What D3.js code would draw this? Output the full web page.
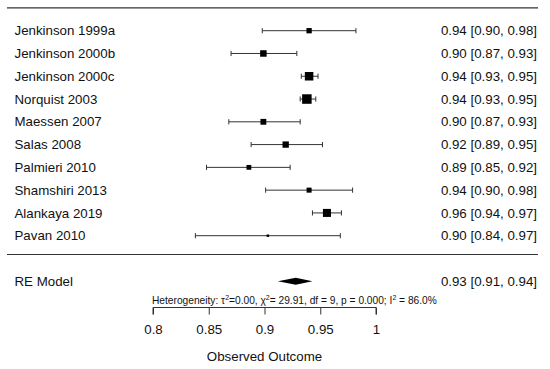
<!DOCTYPE html>
<html lang="en">
<head>
<meta charset="utf-8">
<title>Forest plot</title>
<script src="https://d3js.org/d3.v7.min.js"></script>
<style>
body { margin: 0; background: #fff; }
text { font-family: "Liberation Sans", Arial, sans-serif; fill: #111; }
</style>
</head>
<body>
<script>

// study data
var studies = ["Jenkinson 1999a", "Jenkinson 2000b", "Jenkinson 2000c", "Norquist 2003", "Maessen 2007",
               "Salas 2008", "Palmieri 2010", "Shamshiri 2013", "Alankaya 2019", "Pavan 2010"];
var est   = [0.940, 0.899, 0.940, 0.938, 0.899, 0.919, 0.886, 0.940, 0.956, 0.903];
var lower = [0.898, 0.870, 0.933, 0.932, 0.868, 0.888, 0.848, 0.901, 0.943, 0.838];
var upper = [0.982, 0.929, 0.948, 0.946, 0.932, 0.952, 0.923, 0.979, 0.969, 0.968];
var weights = [6.6, 9.9, 17.0, 21.2, 8.0, 9.4, 5.4, 5.9, 15.1, 1.4];

// pooled RE model
var reLabel = "RE Model";
var reEst = 0.928, reLower = 0.912, reUpper = 0.943;

var ticks = [0.8, 0.85, 0.9, 0.95, 1];
var xTitle = "Observed Outcome";

var W = 550, H = 369;
var fmt = d3.format(".2f");

var svg = d3.select("body").append("svg")
  .attr("width", W)
  .attr("height", H);

var x = d3.scaleLinear().domain([0.8, 1]).range([153, 376]);
// metafor style rows: k at top, summary at -1
var y = d3.scaleLinear().domain([10, 1]).range([30.7, 235.7]);
var size = d3.scaleSqrt().domain([0, d3.max(weights)]).range([0, 9.5]);

var rows = studies.map(function(s, i) {
  return { name: s, est: est[i], lo: lower[i], hi: upper[i], w: weights[i], row: studies.length - i };
});

// horizontal rules
svg.append("line")
  .attr("x1", 7).attr("x2", 538)
  .attr("y1", y(11)).attr("y2", y(11))
  .attr("stroke", "#333").attr("stroke-width", 1.2);
svg.append("line")
  .attr("x1", 7).attr("x2", 538)
  .attr("y1", 254.5).attr("y2", 254.5)
  .attr("stroke", "#333").attr("stroke-width", 1.2);

var g = svg.selectAll("g.study")
  .data(rows)
  .enter().append("g")
  .attr("class", "study");

// CI lines
g.append("line")
  .attr("x1", function(d) { return x(d.lo); })
  .attr("x2", function(d) { return x(d.hi); })
  .attr("y1", function(d) { return y(d.row); })
  .attr("y2", function(d) { return y(d.row); })
  .attr("stroke", "#333").attr("stroke-width", 1);

// end caps
["lo", "hi"].forEach(function(k) {
  g.append("line")
    .attr("x1", function(d) { return x(d[k]); })
    .attr("x2", function(d) { return x(d[k]); })
    .attr("y1", function(d) { return y(d.row) - 2.6; })
    .attr("y2", function(d) { return y(d.row) + 2.6; })
    .attr("stroke", "#333").attr("stroke-width", 1);
});

// squares
g.append("rect")
  .attr("x", function(d) { return x(d.est) - size(d.w) / 2; })
  .attr("y", function(d) { return y(d.row) - size(d.w) / 2; })
  .attr("width", function(d) { return size(d.w); })
  .attr("height", function(d) { return size(d.w); })
  .attr("fill", "#000");

// study labels
g.append("text")
  .attr("x", 14.5)
  .attr("y", function(d) { return y(d.row); })
  .attr("dy", "0.35em")
  .style("font-size", "13.3px")
  .text(function(d) { return d.name; });

// estimates text
g.append("text")
  .attr("x", 537)
  .attr("y", function(d) { return y(d.row); })
  .attr("dy", "0.35em")
  .attr("text-anchor", "end")
  .style("font-size", "13.3px")
  .text(function(d) { return fmt(d.est) + " [" + fmt(d.lo) + ", " + fmt(d.hi) + "]"; });

// RE model row
var yRE = y(-1);
svg.append("text")
  .attr("x", 14.5).attr("y", yRE).attr("dy", "0.35em")
  .style("font-size", "13.3px")
  .text(reLabel);
svg.append("text")
  .attr("x", 537).attr("y", yRE).attr("dy", "0.35em")
  .attr("text-anchor", "end")
  .style("font-size", "13.3px")
  .text(fmt(reEst) + " [" + fmt(reLower) + ", " + fmt(reUpper) + "]");
svg.append("polygon")
  .attr("points", [
    [x(reLower), yRE], [x(reEst), yRE - 3.6], [x(reUpper), yRE], [x(reEst), yRE + 3.6]
  ].map(function(p) { return p.join(","); }).join(" "))
  .attr("fill", "#000");

// heterogeneity note
var het = svg.append("text")
  .attr("x", 152).attr("y", 303.5)
  .style("font-size", "10.2px");
het.append("tspan").text("Heterogeneity: \u03C4");
het.append("tspan").attr("dy", -4).style("font-size", "7px").text("2");
het.append("tspan").attr("dy", 4).text("=0.00, \u03C7");
het.append("tspan").attr("dy", -4).style("font-size", "7px").text("2");
het.append("tspan").attr("dy", 4).text("= 29.91, df = 9, p = 0.000; I");
het.append("tspan").attr("dy", -4).style("font-size", "7px").text("2");
het.append("tspan").attr("dy", 4).text(" = 86.0%");

// x axis (ticks point down, like base R)
var axis = svg.append("g")
  .attr("transform", "translate(0,307.5)")
  .call(d3.axisBottom(x).tickValues(ticks).tickSize(7).tickPadding(10)
    .tickFormat(function(d) { return d3.format("")(d); }));
axis.select(".domain").attr("stroke", "#333").attr("d", "M" + x(0.8) + ",7V0H" + x(1) + "V7");
axis.selectAll(".tick line").attr("stroke", "#333");
axis.selectAll(".tick text")
  .style("font-size", "13.3px")
  .attr("fill", "#111")
  .style("font-family", "'Liberation Sans', Arial, sans-serif");

svg.append("text")
  .attr("x", x(0.9)).attr("y", 356).attr("dy", "0.35em")
  .attr("text-anchor", "middle")
  .style("font-size", "13.3px")
  .text(xTitle);

</script>
</body>
</html>
